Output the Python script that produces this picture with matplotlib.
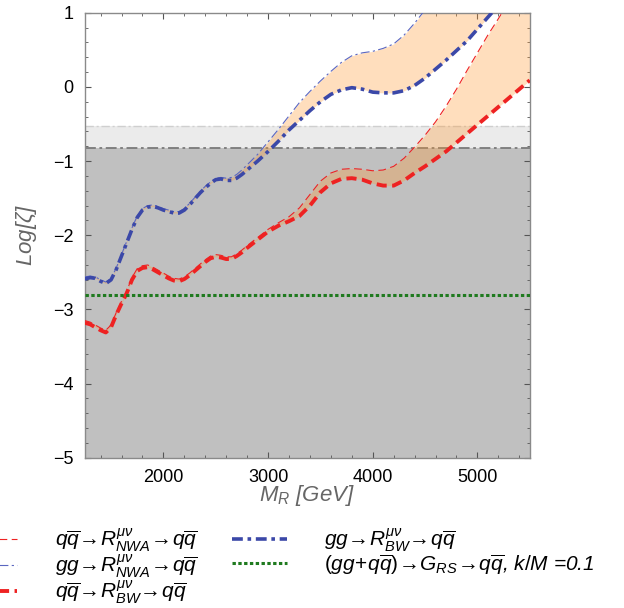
import matplotlib
matplotlib.use("Agg")
from matplotlib import pyplot as plt
from matplotlib.ticker import MultipleLocator

plt.rcParams['font.family'] = ['Liberation Sans', 'DejaVu Sans']
plt.rcParams['mathtext.fontset'] = 'custom'
plt.rcParams['mathtext.rm'] = 'Liberation Sans'
plt.rcParams['mathtext.it'] = 'Liberation Sans:italic'
plt.rcParams['mathtext.bf'] = 'Liberation Sans:bold'

# resonance mass [GeV]
mass = [1250, 1300, 1350, 1400, 1450, 1500, 1550, 1600, 1650, 1700, 1750,
        1800, 1850, 1900, 1950, 2000, 2050, 2100, 2150, 2200, 2250, 2300,
        2350, 2400, 2450, 2500, 2550, 2600, 2650, 2700, 2750, 2800,
        2900, 3000, 3100, 3200, 3300, 3400, 3500, 3600, 3700, 3800, 3900,
        4000, 4100, 4200, 4300, 4400, 4500, 4600, 4700, 4800, 4900, 5000,
        5100, 5200, 5300, 5400, 5500]

# Log[zeta] curves
gg_bw = [-2.59, -2.57, -2.58, -2.62, -2.65, -2.60, -2.46, -2.28, -2.10, -1.92, -1.76,
         -1.66, -1.62, -1.61, -1.63, -1.66, -1.68, -1.70, -1.70, -1.66, -1.59, -1.51,
         -1.43, -1.36, -1.30, -1.25, -1.24, -1.26, -1.26, -1.23, -1.18, -1.12,
         -1.00, -0.87, -0.73, -0.58, -0.45, -0.32, -0.20, -0.10, -0.04, -0.01, -0.03,
         -0.07, -0.08, -0.08, -0.05, 0.02, 0.12, 0.24, 0.36, 0.49, 0.62, 0.78,
         0.94, 1.10, 1.25, 1.40, 1.55]
gg_nwa = [-2.56, -2.55, -2.56, -2.60, -2.63, -2.58, -2.44, -2.26, -2.08, -1.90, -1.74,
          -1.64, -1.60, -1.59, -1.61, -1.64, -1.66, -1.68, -1.68, -1.64, -1.57, -1.49,
          -1.41, -1.34, -1.28, -1.23, -1.22, -1.23, -1.22, -1.18, -1.12, -1.05,
          -0.91, -0.74, -0.57, -0.39, -0.21, -0.06, 0.08, 0.21, 0.33, 0.42, 0.46,
          0.48, 0.52, 0.58, 0.70, 0.86, 1.04, 1.22, 1.38, 1.53, 1.68, 1.83,
          1.98, 2.13, 2.28, 2.43, 2.58]
qq_bw = [-3.18, -3.20, -3.24, -3.28, -3.31, -3.24, -3.07, -2.92, -2.78, -2.60, -2.48,
         -2.44, -2.43, -2.46, -2.50, -2.54, -2.58, -2.61, -2.62, -2.59, -2.54, -2.48,
         -2.42, -2.36, -2.31, -2.29, -2.30, -2.32, -2.32, -2.28, -2.23, -2.17,
         -2.06, -1.95, -1.87, -1.81, -1.74, -1.60, -1.42, -1.30, -1.24, -1.23, -1.25,
         -1.30, -1.33, -1.33, -1.26, -1.16, -1.07, -0.97, -0.87, -0.75, -0.63, -0.51,
         -0.39, -0.27, -0.15, -0.03, 0.09]
qq_nwa = [-3.15, -3.17, -3.21, -3.25, -3.28, -3.21, -3.04, -2.89, -2.75, -2.57, -2.45,
          -2.41, -2.40, -2.43, -2.47, -2.51, -2.55, -2.58, -2.59, -2.56, -2.51, -2.45,
          -2.39, -2.33, -2.28, -2.26, -2.27, -2.29, -2.29, -2.25, -2.20, -2.14,
          -2.03, -1.92, -1.83, -1.75, -1.63, -1.45, -1.27, -1.16, -1.11, -1.10, -1.11,
          -1.13, -1.12, -1.07, -0.96, -0.81, -0.65, -0.47, -0.26, -0.03, 0.22, 0.46,
          0.70, 0.92, 1.15, 1.38, 1.60]

rs_level = -2.8
excl_strong = -0.82
excl_weak = -0.52

labels = [r"$q\overline{q}\!\rightarrow\!R^{\mu\nu}_{NWA}\!\rightarrow\!q\overline{q}$",
          r"$gg\!\rightarrow\!R^{\mu\nu}_{NWA}\!\rightarrow\!q\overline{q}$",
          r"$q\overline{q}\!\rightarrow\!R^{\mu\nu}_{BW}\!\rightarrow\!q\overline{q}$",
          r"$gg\!\rightarrow\!R^{\mu\nu}_{BW}\!\rightarrow\!q\overline{q}$",
          r"$(gg\!+\!q\overline{q})\!\rightarrow\!G_{RS}\!\rightarrow\!q\overline{q}$, $k/M$ =0.1"]

red = '#EE2222'
blue = '#3B48A8'
green = '#1F7A1F'

fig = plt.figure(figsize=(6.24, 6.08), dpi=100)
ax = fig.add_axes([0.136, 0.247, 0.713, 0.732])

# excluded regions
ax.axhspan(-5, excl_strong, color='#C0C0C0', lw=0, zorder=0)
ax.axhspan(excl_strong, excl_weak, color='#EBEBEB', lw=0, zorder=0)
ax.axhline(excl_strong, color='#7A7A7A', lw=1.3, dashes=(6, 2, 1.5, 2), zorder=1)
ax.axhline(excl_weak, color='#CFCFCF', lw=1.0, dashes=(6, 2, 1.5, 2), zorder=1)

# bands between narrow width and Breit-Wigner
ax.fill_between(mass, gg_bw, gg_nwa, color=(1.0, 0.6, 0.2), alpha=0.32, lw=0, zorder=2)
ax.fill_between(mass, qq_bw, qq_nwa, color=(1.0, 0.6, 0.2), alpha=0.32, lw=0, zorder=2)

h1, = ax.plot(mass, qq_nwa, color=red, lw=0.8, dashes=(7, 4), zorder=3)
h2, = ax.plot(mass, gg_nwa, color='#5A66C0', lw=0.8, dashes=(8, 3, 2, 3), zorder=3)
h3, = ax.plot(mass, qq_bw, color=red, lw=2.8, dashes=(2.6, 1.4), zorder=4)
h4, = ax.plot(mass, gg_bw, color=blue, lw=2.6, dashes=(3, 1.3, 1, 1.3), zorder=4)
h5 = ax.axhline(rs_level, color=green, lw=2.2, dashes=(1.1, 0.8), zorder=4)

ax.set_xlim(1250, 5500)
ax.set_ylim(-5, 1)
ax.xaxis.set_major_locator(MultipleLocator(1000))
ax.xaxis.set_minor_locator(MultipleLocator(200))
ax.yaxis.set_major_locator(MultipleLocator(1))
ax.yaxis.set_minor_locator(MultipleLocator(0.2))
ax.tick_params(which='both', direction='in', top=True, right=True, color='#555555')
ax.tick_params(which='major', length=4, width=0.8, labelsize=13, pad=8)
ax.tick_params(which='minor', length=2, width=0.6)
for s in ax.spines.values():
    s.set_color('#8A8A8A')
    s.set_linewidth(1.0)

ax.set_xlabel(r"$M_R$ [GeV]", fontsize=16, color='#666666', style='italic', labelpad=-2)
ax.set_ylabel(r"Log[$\zeta$]", fontsize=16, color='#666666', style='italic', labelpad=10)

leg = fig.legend([h1, h2, h3, h4, h5], labels, ncol=2, frameon=False,
                 loc='upper left', bbox_to_anchor=(-0.059, 0.134),
                 prop={'style': 'italic', 'size': 15},
                 handlelength=2.6, handletextpad=1.8, columnspacing=1.7,
                 labelspacing=-0.08, borderpad=0, borderaxespad=0)

fig.savefig('out.png', dpi=100)
